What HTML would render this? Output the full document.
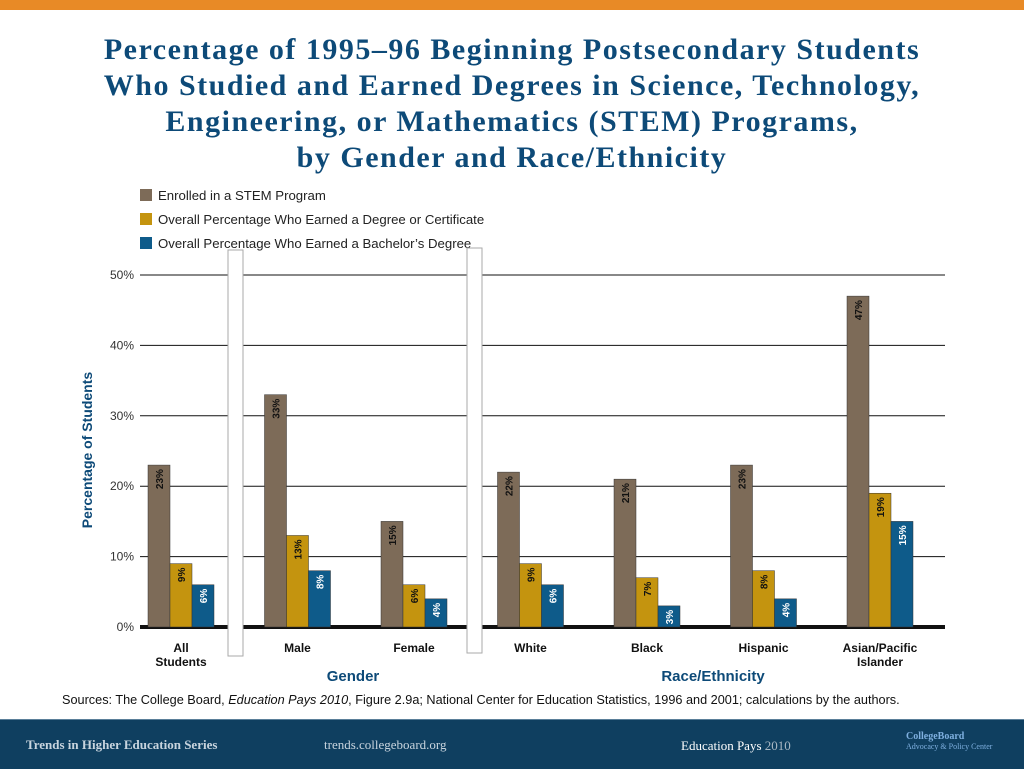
<!DOCTYPE html>
<html><head><meta charset="utf-8"><style>
body{margin:0;width:1024px;height:768px;background:#fff;position:relative;overflow:hidden;font-family:"Liberation Sans",sans-serif}
.abs{position:absolute}
</style></head><body>
<div class="abs" style="left:0;top:0;width:1024px;height:10px;background:#e88a26"></div>
<div class="abs" style="left:0;top:32px;width:1024px;text-align:center;font-family:'Liberation Serif',serif;font-weight:bold;font-size:30px;letter-spacing:1.5px;line-height:36px;color:#0d4a78">Percentage of 1995–96 Beginning Postsecondary Students<br>Who Studied and Earned Degrees in Science, Technology,<br>Engineering, or Mathematics (STEM) Programs,<br>by Gender and Race/Ethnicity</div>
<svg class="abs" style="left:0;top:0" width="1024" height="768" id="chart"></svg>
<div class="abs" style="left:62px;top:693px;font-size:12.7px;color:#111">Sources: The College Board, <i>Education Pays 2010</i>, Figure 2.9a; National Center for Education Statistics, 1996 and 2001; calculations by the authors.</div>
<div class="abs" style="left:0;top:719px;width:1024px;height:49px;background:#0f3f60;border-top:1px solid #5a7f99;font-family:'Liberation Serif',serif;color:#c8d4de;font-size:13px">
<span class="abs" style="left:26px;top:17px;font-weight:bold">Trends in Higher Education Series</span>
<span class="abs" style="left:324px;top:17px">trends.collegeboard.org</span>
<span class="abs" style="left:681px;top:18px;color:#fff">Education Pays <span style="color:#aab8c4">2010</span></span>
<span class="abs" style="left:906px;top:12px;font-size:10px;line-height:10px;color:#7fb0e0"><b>CollegeBoard</b><br><span style="font-size:8px">Advocacy &amp; Policy Center</span></span>
</div>
<script>
const categories=["All Students","Male","Female","White","Black","Hispanic","Asian/Pacific Islander"];
const enrolled=[23,33,15,22,21,23,47];
const earnedDegree=[9,13,6,9,7,8,19];
const earnedBachelor=[6,8,4,6,3,4,15];
const yTicks=[0,10,20,30,40,50];
const seriesNames=["Enrolled in a STEM Program","Overall Percentage Who Earned a Degree or Certificate","Overall Percentage Who Earned a Bachelor’s Degree"];
const colors=["#7d6b58","#c4940f","#0e5b8a"];
const NS="http://www.w3.org/2000/svg";
const svg=document.getElementById('chart');
const y0=627,pxPer=7.04;
const yScale=v=>y0-v*pxPer;
const xGroup=i=>148+i*116.5;
const bw=22;
function mk(t,a,p){const e=document.createElementNS(NS,t);for(const k in a)e.setAttribute(k,a[k]);(p||svg).appendChild(e);return e;}
seriesNames.forEach((n,i)=>{
 const r=mk('rect',{x:140,y:189+i*24,width:12,height:12,fill:colors[i]});
 
 
 const t=mk('text',{x:158,y:200+i*24,'font-size':13.2,fill:'#222'});t.textContent=n;
 
 
});
yTicks.forEach(v=>{
 const y=yScale(v);
 const l=mk('line',{x1:140,x2:945,y1:y,y2:y,stroke:'#111','stroke-width':v===0?4:1});
 
 
 const t=mk('text',{x:134,y:y+4,'font-size':12,fill:'#333','text-anchor':'end'});t.textContent=v+'%';
 
 
});
const yt=mk('text',{x:0,y:0,'font-size':14,'font-weight':'bold',fill:'#0d4a78','text-anchor':'middle',transform:'translate(92,450) rotate(-90)'});yt.textContent='Percentage of Students';


const series=[enrolled,earnedDegree,earnedBachelor];
categories.forEach((c,i)=>{
 series.forEach((s,j)=>{
  const x=xGroup(i)+j*bw, v=s[i], y=yScale(v);
  const r=mk('rect',{x:x,y:y,width:bw,height:y0-y,fill:colors[j],stroke:'#333','stroke-width':0.5});
  
  
  const t=mk('text',{x:0,y:0,'font-size':10,'font-weight':'bold',fill:j===2?'#fff':'#111','text-anchor':'end',transform:`translate(${x+bw/2+4},${y+4}) rotate(-90)`});
  t.textContent=v+'%';
  
  
 });
 const parts=c==="All Students"?["All","Students"]:c==="Asian/Pacific Islander"?["Asian/Pacific","Islander"]:[c];
 parts.forEach((p,k)=>{
  const t=mk('text',{x:xGroup(i)+33,y:652+k*14,'font-size':12,'font-weight':'bold',fill:'#111','text-anchor':'middle'});t.textContent=p;
  
  
 });
});
[[228,250,406],[467,248,405]].forEach(a=>{
 const r=mk('rect',{x:a[0],y:a[1],width:15,height:a[2],fill:'#fff',stroke:'#aaa','stroke-width':1});
 
 
});
[['Gender',353],['Race/Ethnicity',713]].forEach(g=>{
 const t=mk('text',{x:g[1],y:681,'font-size':15,'font-weight':'bold',fill:'#0d4a78','text-anchor':'middle'});t.textContent=g[0];
 
 
});
</script>
</body></html>
